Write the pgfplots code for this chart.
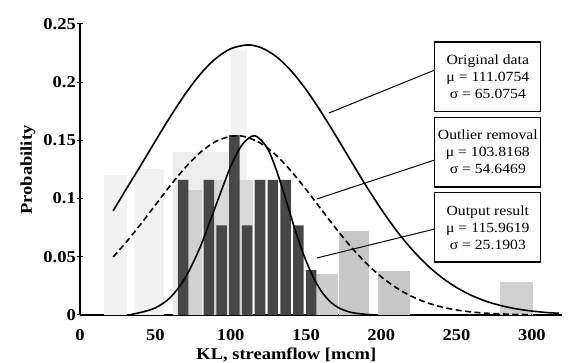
\documentclass[border=0pt]{standalone}
\usepackage{pgfplots}
\pgfplotsset{compat=1.18}
\usepackage{fontspec}
\setmainfont{Liberation Serif}[FakeStretch=1.12]
\begin{document}
\begin{tikzpicture}
\begin{axis}[
  at={(0pt,0pt)}, anchor=south west,
  scale only axis, width=482pt, height=291pt,
  xmin=0, xmax=320, ymin=0, ymax=0.25,
  axis x line*=bottom, axis y line*=left,
  axis line style={line width=1.1pt,-},
  xtick={0,50,100,150,200,250,300},
  xticklabels={0,50,100,150,200,250,300},
  ytick={0,0.05,0.1,0.15,0.2,0.25},
  yticklabels={0,0.05,0.1,0.15,0.2,0.25},
  x tick style={draw=none},
  y tick style={line width=1pt, black},
  tick align=center, major tick length=6pt,
  ticklabel style={font=\fontsize{16.5}{18}\selectfont\bfseries},
  xticklabel style={anchor=base, yshift=-22.5pt},
  yticklabel style={anchor=east, inner sep=0pt, xshift=-1pt},
  xlabel={KL, streamflow [mcm]},
  ylabel={Probability},
  label style={font=\fontsize{16.5}{19}\selectfont\bfseries},
  xlabel style={at={(axis description cs:0.428,0)}, anchor=base, yshift=-44.5pt},
  ylabel style={at={(axis description cs:0,0.498)}, anchor=center, yshift=52pt},
  clip=false,
]
% faded original-data histogram
\addplot[fill=black!5, draw=none] coordinates {(16,0) (16,0.12) (31,0.12) (31,0)};
\addplot[fill=black!5, draw=none] coordinates {(36,0) (36,0.125) (56,0.125) (56,0)};
\addplot[fill=black!7, draw=none] coordinates {(62,0) (62,0.14) (100,0.14) (100,0)};
\addplot[fill=black!5, draw=none] coordinates {(100,0) (100,0.228) (111,0.228) (111,0)};
\addplot[fill=black!18, draw=none] coordinates {(72,0) (72,0.107) (81,0.107) (81,0)};
\addplot[fill=black!15, draw=none] coordinates {(84,0) (84,0.116) (115,0.116) (115,0)};
\addplot[fill=black!20, draw=none] coordinates {(157,0) (157,0.035) (171,0.035) (171,0)};
\addplot[fill=black!22, draw=none] coordinates {(172,0) (172,0.072) (192,0.072) (192,0)};
\addplot[fill=black!22, draw=none] coordinates {(198,0) (198,0.038) (219,0.038) (219,0)};
\addplot[fill=black!18, draw=none] coordinates {(279,0) (279,0.028) (301,0.028) (301,0)};
% output-result histogram
\addplot[ybar, bar width=7, bar shift=0pt, fill=black!72, draw=none] coordinates {
 (68.5,0.116) (85.5,0.116) (94,0.077) (102.5,0.1545) (111,0.077)
 (119.5,0.116) (128,0.116) (136.5,0.116) (145,0.077) (153.5,0.0386)};
% original data curve
\addplot[line width=1.6pt, smooth, black] coordinates {
 (22,0.0895) (30,0.1067) (40,0.1278) (50,0.1494) (60,0.1705) (70,0.1901)
 (80,0.2071) (90,0.2202) (100,0.2287) (111,0.232) (120,0.2298) (130,0.2223)
 (140,0.2100) (150,0.1938) (160,0.1746) (170,0.1537) (180,0.1321) (190,0.1108)
 (200,0.0909) (210,0.0727) (220,0.0569) (230,0.0434) (240,0.0324) (250,0.0236)
 (260,0.0168) (270,0.0116) (280,0.0079) (290,0.0052) (300,0.0034) (310,0.0021) (318,0.0015)};
% outlier removal curve
\addplot[line width=1.6pt, smooth, black, dash pattern=on 6pt off 3.5pt] coordinates {
 (22,0.0499) (30,0.0615) (40,0.0775) (50,0.0944) (60,0.1113) (70,0.1268)
 (80,0.1398) (90,0.1490) (100,0.1536) (104,0.154) (110,0.1531) (120,0.1475)
 (130,0.1375) (140,0.1239) (150,0.1080) (160,0.0910) (170,0.0742) (180,0.0584)
 (190,0.0445) (200,0.0328) (210,0.0234) (220,0.0161) (230,0.0107) (240,0.0069)
 (250,0.0043) (260,0.0026) (270,0.0015) (280,0.0009) (290,0.0005) (300,0.0003)};
% output result curve
\addplot[line width=1.6pt, smooth, black] coordinates {
 (34,0.0005) (40,0.0021) (50,0.0061) (60,0.0151) (70,0.0322) (80,0.059)
 (90,0.0934) (100,0.1274) (108,0.1469) (116,0.154) (124,0.1442) (130,0.1258)
 (136,0.1019) (142,0.0766) (148,0.0535) (154,0.0347) (160,0.0208) (166,0.0116)
 (172,0.006) (180,0.0022) (190,0.0005) (196,0.0001)};
% leader lines
\draw[line width=1pt] (axis cs:235.6,0.2105) -- (axis cs:165.2,0.1735);
\draw[line width=1pt] (axis cs:235.6,0.1332) -- (axis cs:157.3,0.0997);
\draw[line width=1pt] (axis cs:235.6,0.0739) -- (axis cs:157.3,0.049);
% boxes
\draw[line width=1.2pt, fill=white] (axis cs:235.6,0.175) rectangle (axis cs:305.9,0.2345);
\draw[line width=1.2pt, fill=white] (axis cs:235.6,0.110) rectangle (axis cs:305.9,0.170);
\draw[line width=1.2pt, fill=white] (axis cs:235.6,0.0455) rectangle (axis cs:305.9,0.105);
\node[align=center, font=\fontsize{14}{17}\selectfont] at (axis cs:270.75,0.2048) {Original data\\μ = 111.0754\\σ = 65.0754};
\node[align=center, font=\fontsize{14}{17}\selectfont] at (axis cs:270.75,0.140) {Outlier removal\\μ = 103.8168\\σ = 54.6469};
\node[align=center, font=\fontsize{14}{17}\selectfont] at (axis cs:270.75,0.0753) {Output result\\μ = 115.9619\\σ = 25.1903};
\end{axis}
\pgfresetboundingbox
\path[use as bounding box] (-80pt,-48pt) rectangle (493pt,315pt);
\end{tikzpicture}
\end{document}
